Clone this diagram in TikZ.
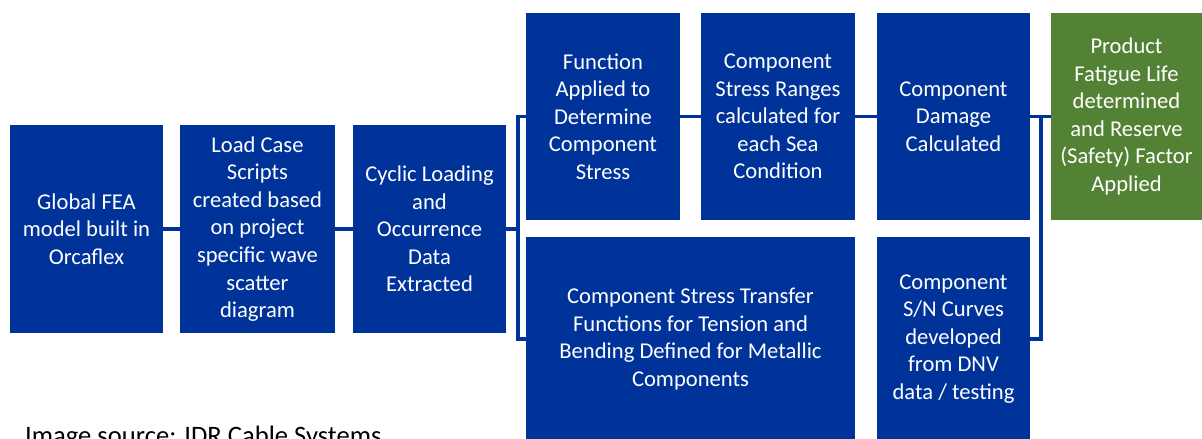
\documentclass[tikz,border=0pt]{standalone}
\usepackage{fontspec}
\setmainfont{Carlito}
\usepackage{xcolor}
\usepackage{tikz}
\definecolor{flowblue}{HTML}{003399}
\definecolor{flowgreen}{HTML}{548235}

\begin{document}
\begin{tikzpicture}[x=1pt,y=-1pt,
  stage/.style={fill=flowblue,text=white,align=center,inner sep=0pt,
    minimum height=208pt,font=\fontsize{22.6}{27.6}\selectfont},
  link/.style={draw=flowblue,line width=3.5pt}]
  \useasboundingbox (0,0) rectangle (1202,439);
  % upstream chain
  \node[stage,minimum width=153pt] (fea) at (86.5,229) {Global FEA\\model built in\\Orcaflex};
  \node[stage,minimum width=155pt] (scripts) at (257.5,229) {Load Case\\Scripts\\created based\\on project\\specific wave\\scatter\\diagram};
  \node[stage,minimum width=153pt] (cyclic) at (429.5,229) {Cyclic Loading\\and\\Occurrence\\Data\\Extracted};
  % top row
  \node[stage,minimum width=154pt,minimum height=207pt] (func) at (603,116.5) {Function\\Applied to\\Determine\\Component\\Stress};
  \node[stage,minimum width=154pt,minimum height=207pt] (ranges) at (778,116.5) {Component\\Stress Ranges\\calculated for\\each Sea\\Condition};
  \node[stage,minimum width=153pt,minimum height=207pt] (damage) at (953.5,116.5) {Component\\Damage\\Calculated};
  \node[stage,fill=flowgreen,minimum width=151pt,minimum height=207pt] (life) at (1126.5,116.5) {Product\\Fatigue Life\\determined\\and Reserve\\(Safety) Factor\\Applied};
  % bottom row
  \node[stage,minimum width=329pt,minimum height=205pt] (transfer) at (690.5,339) {Component Stress Transfer\\Functions for Tension and\\Bending Defined for Metallic\\Components};
  \node[stage,minimum width=153pt,minimum height=205pt] (curves) at (953.5,339) {Component\\S/N Curves\\developed\\from DNV\\data / testing};
  % connectors
  \coordinate (split) at (518,229);
  \coordinate (merge) at (1041,116.5);
  \draw[link] (fea.east) -- (scripts.west);
  \draw[link] (scripts.east) -- (cyclic.west);
  \draw[link] (cyclic.east) -- (split);
  \draw[link] (func.west) -| (split) |- (transfer.west);
  \draw[link] (func.east) -- (ranges.west);
  \draw[link] (ranges.east) -- (damage.west);
  \draw[link] (damage.east) -- (life.west);
  \draw[link] (merge) |- (curves.east);
  \node[anchor=base west,inner sep=0pt,font=\fontsize{26.6}{30}\selectfont] (credit) at (25,444) {Image source: IDR Cable Systems};
\end{tikzpicture}
\end{document}
